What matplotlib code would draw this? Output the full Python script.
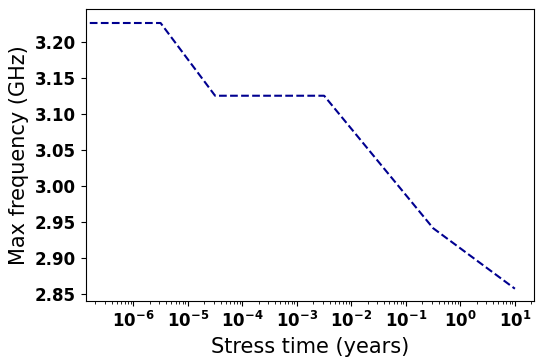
import matplotlib
matplotlib.use("Agg")
import matplotlib.pyplot as plt

stress_years = [1e-7, 3.17e-6, 3.17e-5, 3.17e-3, 3.17e-1, 10.0]
max_freq_ghz = [3.226, 3.226, 3.125, 3.125, 2.941, 2.857]
y_ticks = [2.85, 2.90, 2.95, 3.00, 3.05, 3.10, 3.15, 3.20]

fig = plt.figure(figsize=(5.44, 3.64), dpi=100)
ax = fig.add_axes([0.1575, 0.172, 0.8245, 0.8024])
ax.plot(stress_years, max_freq_ghz, linestyle='--', color='#000090', linewidth=1.5)
ax.set_xscale('log')
ax.set_xlim(1.34e-7, 22.6)
ax.set_ylim(2.8394, 3.245)
ax.set_yticks(y_ticks)
ax.set_xlabel('Stress time (years)', fontsize=15)
ax.set_ylabel('Max frequency (GHz)', fontsize=15)
for lab in ax.get_xticklabels() + ax.get_yticklabels():
    lab.set_fontweight('bold')
    lab.set_fontsize(12)
ax.tick_params(axis='both', labelsize=12)
for lab in ax.get_xticklabels() + ax.get_yticklabels():
    lab.set_fontweight('bold')
fig.savefig('out.png', dpi=100)
